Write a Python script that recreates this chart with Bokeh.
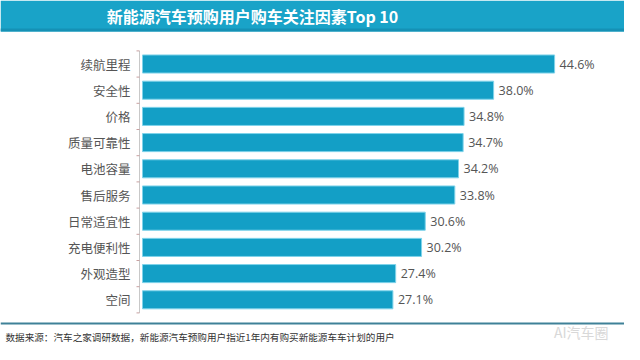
from bokeh.plotting import figure
from bokeh.models import Range1d, ColumnDataSource
from bokeh.core.properties import value
from bokeh.embed import file_html
from bokeh.resources import INLINE

title_text = "新能源汽车预购用户购车关注因素Top 10"
categories = ["续航里程", "安全性", "价格", "质量可靠性", "电池容量",
              "售后服务", "日常适宜性", "充电便利性", "外观造型", "空间"]
values = [44.6, 38.0, 34.8, 34.7, 34.2, 33.8, 30.6, 30.2, 27.4, 27.1]
source_note = "数据来源：汽车之家调研数据，新能源汽车预购用户指近1年内有购买新能源车车计划的用户"
watermark = "AI汽车圈"

W, H = 624, 344
# pixel geometry (figure pixels)
X0 = 142.0            # x pixel of value 0
PX_PER = 9.24         # pixels per percent
Y0 = 63.5             # y pixel (from top) of first bar centre
STEP = 26.2           # pixels between bars

def dx(px):
    return (px - X0) / PX_PER

def dy(py):
    return (py - Y0) / STEP

p = figure(width=W, height=H, output_backend="svg", toolbar_location=None,
           x_range=Range1d(dx(0), dx(W)), y_range=Range1d(dy(H), dy(0)),
           x_axis_type=None, y_axis_type=None, min_border=0,
           background_fill_color="white", border_fill_color="white",
           outline_line_color=None)
p.grid.visible = False

idx = list(range(len(categories)))
src = ColumnDataSource(dict(y=idx, v=values, cat=categories,
                            lab=[f"{v:.1f}%" for v in values]))

# banner
p.quad(left=dx(0), right=dx(W), top=dy(0), bottom=dy(31), fill_color="#19a3c8", line_color=None)
p.quad(left=dx(0), right=dx(W), top=dy(28), bottom=dy(31), fill_color="#1591b5", line_color=None)
p.text(x=[dx(252)], y=[dy(15.5)], text=[title_text], text_color="white",
       text_font=value("Noto Sans CJK SC"), text_font_style="bold",
       text_font_size="16px", text_align="center", text_baseline="middle")

# bars
p.hbar(y="y", right="v", left=0, height=0.69, source=src,
       fill_color="#139fc6", line_color="#7fd3ea", line_width=1)

# axis line and ticks between categories
p.segment(x0=[dx(139)], x1=[dx(139)], y0=[-0.5], y1=[len(categories) - 0.5],
          line_color="#c8c8c8", line_width=1)
p.segment(x0=dx(136), x1=dx(139), y0=[i - 0.5 for i in range(len(categories) + 1)],
          y1=[i - 0.5 for i in range(len(categories) + 1)], line_color="#c8a0a0", line_width=1)

# category labels
p.text(x=dx(130), y="y", text="cat", source=src, text_align="right", text_baseline="middle",
       text_color="#555555", text_font=value("Noto Sans CJK SC"), text_font_size="12.5px")

# value labels
p.text(x="v", y="y", text="lab", source=src, x_offset=5, text_align="left", text_baseline="middle",
       text_color="#555555", text_font=value("Open Sans"), text_font_size="12.5px")

# footer
p.segment(x0=[dx(0)], x1=[dx(W)], y0=[dy(323)], y1=[dy(323)], line_color="#3f8198", line_width=2)
p.text(x=[dx(5)], y=[dy(336)], text=[source_note], text_align="left", text_baseline="middle",
       text_color="#333333", text_font=value("Noto Sans CJK SC"), text_font_size="9.6px")
p.text(x=[dx(608)], y=[dy(331)], text=[watermark], text_align="right", text_baseline="middle",
       text_color="#d8d8d8", text_font=value("Noto Sans CJK SC"), text_font_size="14px")

open("out.html", "w").write(file_html(p, INLINE))
